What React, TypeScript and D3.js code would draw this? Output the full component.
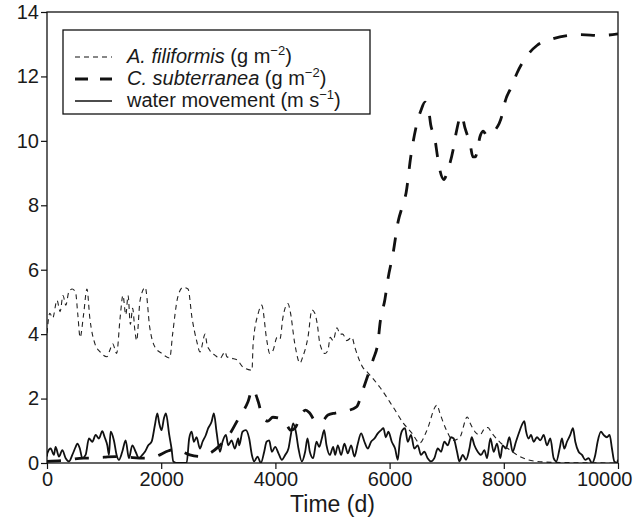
import { useEffect, useRef } from "react"
import { select, scaleLinear, axisBottom, axisLeft, line, curveMonotoneX } from "d3"

// Data: [day, value]
const filiformis: [number, number][] = [
  [0, 4.03], [50, 4.65], [100, 4.5], [175, 5.05], [230, 4.7], [280, 5.2], [330, 4.9], [380, 5.3], [440, 5.4],
  [500, 5.3], [540, 4.6], [580, 3.9], [640, 4.6], [700, 5.4], [750, 4.5], [840, 3.7], [930, 3.45], [1050, 3.3],
  [1100, 3.5], [1150, 3.7], [1220, 3.4], [1280, 4.5], [1330, 5.2], [1380, 4.6], [1420, 5.2], [1460, 4.3],
  [1500, 4.8], [1540, 4.1], [1570, 3.8], [1630, 5.05], [1720, 5.45], [1800, 4.2], [1890, 3.6], [2010, 3.4],
  [2150, 3.26], [2200, 4.0], [2290, 5.15], [2380, 5.45], [2470, 5.4], [2540, 4.5], [2620, 3.8], [2680, 3.45],
  [2770, 4.0], [2800, 3.7], [2850, 3.5], [2940, 3.35], [3030, 3.25], [3120, 3.45], [3150, 3.3], [3240, 3.25],
  [3330, 3.2], [3430, 2.98], [3590, 2.88], [3610, 3.7], [3700, 4.65], [3760, 4.9], [3850, 3.8], [3900, 3.4],
  [3960, 3.5], [4030, 3.9], [4080, 3.85], [4130, 4.5], [4220, 4.95], [4260, 4.7], [4340, 3.7], [4430, 3.1],
  [4480, 3.3], [4570, 3.9], [4640, 4.75], [4690, 4.65], [4730, 4.35], [4780, 3.7], [4870, 3.4], [4920, 3.5],
  [4960, 3.9], [5010, 3.8], [5080, 4.2], [5130, 4.0], [5180, 4.0], [5250, 3.8], [5340, 3.9], [5390, 3.6],
  [5520, 3.0], [5620, 2.8], [5830, 2.35], [6060, 1.74], [6240, 1.24], [6390, 0.93], [6530, 0.62], [6650, 1.0],
  [6830, 1.8], [6880, 1.55], [7000, 1.0], [7110, 0.7], [7230, 0.8], [7360, 1.43], [7410, 1.24], [7500, 0.96],
  [7580, 0.87], [7670, 1.08], [7720, 1.1], [7790, 0.93], [7930, 0.65], [8110, 0.4], [8280, 0.2], [8580, 0.05],
  [8860, 0.02], [10000, 0],
]

const subterranea: [number, number][] = [
  [0, 0.05], [300, 0.08], [640, 0.15], [720, 0.15], [1000, 0.18], [1200, 0.2], [1400, 0.18], [1700, 0.15],
  [1900, 0.2], [2130, 0.38], [2230, 0.42], [2330, 0.38], [2500, 0.25], [2700, 0.2], [2850, 0.3], [3000, 0.5],
  [3200, 0.9], [3360, 1.4], [3520, 1.9], [3600, 2.3], [3700, 1.9], [3780, 1.4], [3870, 1.3], [3955, 1.42],
  [4050, 1.4], [4150, 1.33], [4270, 1.02], [4350, 1.1], [4445, 1.49], [4530, 1.64], [4600, 1.55], [4700, 1.3],
  [4800, 1.27], [4920, 1.49], [5050, 1.55], [5200, 1.6], [5420, 1.74], [5530, 2.26], [5650, 2.88], [5710, 3.2],
  [5800, 3.8], [5830, 4.3], [5920, 5.1], [5970, 5.7], [6060, 6.5], [6150, 7.5], [6230, 8.0], [6290, 8.4],
  [6370, 9.5], [6460, 10.4], [6550, 10.95], [6620, 11.2], [6680, 11.0], [6720, 10.5], [6790, 10.1], [6840, 9.5],
  [6880, 9.1], [6950, 8.8], [7020, 9.1], [7110, 9.7], [7160, 10.2], [7260, 10.8], [7320, 10.4], [7410, 9.9],
  [7460, 9.5], [7500, 9.5], [7590, 10.17], [7640, 10.3], [7700, 10.17], [7760, 10.2], [7830, 10.3], [7970, 10.8],
  [8020, 11.2], [8140, 11.7], [8230, 12.1], [8390, 12.6], [8580, 12.96], [8830, 13.15], [9120, 13.27],
  [9350, 13.3], [9680, 13.27], [10000, 13.32],
]

const water: [number, number][] = [
  [0, 0.2], [5, 0.3], [64, 0.45], [122, 0.25], [150, 0.5], [210, 0.2], [268, 0.4], [327, 0.15], [385, 0.05],
  [443, 0.25], [502, 0.5], [530, 0.6], [575, 0.45], [618, 0.15], [676, 0.25], [735, 0.76], [794, 0.66],
  [852, 0.87], [910, 0.76], [968, 0.99], [1010, 0.8], [1056, 0.55], [1085, 0.25], [1114, 0.97], [1172, 0.7],
  [1219, 0.25], [1260, 0.1], [1318, 0.35], [1377, 0.7], [1435, 0.15], [1494, 0.55], [1552, 0.35], [1610, 0.15],
  [1669, 0.25], [1715, 0.35], [1774, 0.55], [1832, 0.66], [1890, 1.18], [1932, 1.54], [1966, 1.23], [2006, 1.02],
  [2048, 1.39], [2083, 1.54], [2141, 0.87], [2181, 0.45], [2211, 0.05], [2270, 0], [2445, 0], [2490, 0.76],
  [2532, 0.97], [2573, 0.66], [2619, 0.8], [2678, 0.45], [2724, 0.66], [2782, 0.87], [2823, 1.08], [2882, 1.28],
  [2923, 1.54], [2969, 0.97], [3028, 0.35], [3074, 0.66], [3133, 0.87], [3174, 0.55], [3232, 0.7], [3290, 0.45],
  [3349, 0.76], [3366, 0.55], [3424, 0.97], [3483, 1.02], [3541, 0.76], [3588, 0.25], [3629, 0.05], [3687, 0.2],
  [3745, 0], [3804, 0.35], [3845, 0.66], [3891, 0.7], [3938, 0.35], [3996, 0.5], [4054, 0.3], [4113, 0.1],
  [4171, 0.25], [4229, 0.45], [4270, 0.87], [4311, 1.23], [4358, 0.97], [4404, 0.45], [4463, 0.05], [4521, 0.35],
  [4562, 0.76], [4603, 0.35], [4661, 0.15], [4720, 0.66], [4766, 0.5], [4813, 0.76], [4854, 1.02], [4895, 0.55],
  [4953, 0.25], [5012, 0.5], [5046, 0.25], [5093, 0.55], [5151, 0.25], [5209, 0.6], [5268, 0.3], [5326, 0.55],
  [5384, 0.2], [5443, 0.6], [5501, 0.92], [5559, 0.66], [5618, 0.45], [5676, 0.66], [5734, 0.76], [5793, 0.92],
  [5851, 1.02], [5892, 1.08], [5933, 0.8], [5979, 0.97], [6038, 0.66], [6096, 0.45], [6143, 0.1], [6183, 0.76],
  [6224, 1.02], [6270, 1.08], [6317, 0.66], [6375, 0.87], [6433, 0.45], [6492, 0.55], [6550, 0.25], [6608, 0.35],
  [6666, 0.15], [6725, 0.05], [6784, 0.15], [6843, 0.45], [6901, 0.35], [6959, 0.66], [7018, 0.55], [7076, 0.8],
  [7122, 0.76], [7181, 0.35], [7222, 0.05], [7281, 0.25], [7339, 0.1], [7398, 0.45], [7438, 0.8], [7485, 0.55],
  [7543, 0.35], [7601, 0.25], [7660, 0.4], [7706, 0.15], [7765, 0.76], [7823, 0.35], [7881, 0.6], [7940, 0.15],
  [7980, 0.55], [8038, 0.45], [8097, 0.8], [8155, 0.35], [8213, 0.66], [8272, 0.97], [8330, 1.23], [8360, 1.3],
  [8388, 1.0], [8435, 0.76], [8476, 0.87], [8523, 0.66], [8581, 0.8], [8640, 0.7], [8698, 0.87], [8756, 0.55],
  [8815, 0.76], [8873, 0.15], [8920, 0.05], [8978, 0.45], [9018, 0.76], [9059, 0.45], [9106, 0.66], [9164, 0.87],
  [9211, 1.08], [9252, 0.66], [9310, 0.35], [9369, 0.25], [9427, 0.1], [9485, 0.15], [9544, 0], [9602, 0.25],
  [9643, 0.66], [9701, 0.97], [9748, 0.87], [9806, 0.8], [9853, 0.87], [9894, 0.45], [9935, 0.05], [9981, 0],
  [10000, 0.1],
]

const xTicks = [0, 2000, 4000, 6000, 8000, 10000]
const yTicks = [0, 2, 4, 6, 8, 10, 12, 14]
const xLabel = "Time (d)"

const W = 644
const H = 522
const margin = { top: 12, right: 26, bottom: 59, left: 47 }
const FONT = "'Liberation Sans', Arial, Helvetica, sans-serif"

export default function App() {
  const svgRef = useRef<SVGSVGElement>(null)

  useEffect(() => {
    const svg = select(svgRef.current)
    svg.selectAll("*").remove()

    const x = scaleLinear([0, 10000], [margin.left, W - margin.right])
    const y = scaleLinear([0, 14], [H - margin.bottom, margin.top])

    svg.append("defs").append("clipPath").attr("id", "plot-clip")
      .append("rect")
      .attr("x", margin.left).attr("y", margin.top)
      .attr("width", W - margin.left - margin.right)
      .attr("height", H - margin.top - margin.bottom)

    // axes
    const gx = svg.append("g")
      .attr("transform", `translate(0,${H - margin.bottom})`)
      .call(axisBottom(x).tickValues(xTicks).tickFormat(d => `${d}`).tickSize(6).tickPadding(3))
    const gy = svg.append("g")
      .attr("transform", `translate(${margin.left},0)`)
      .call(axisLeft(y).tickValues(yTicks).tickSize(6).tickPadding(2))
    for (const g of [gx, gy]) {
      g.select(".domain").remove()
      g.selectAll("line").attr("stroke", "#111").attr("stroke-width", 1.2)
      g.selectAll("text").attr("font-family", FONT).attr("font-size", 20).attr("fill", "#1a1a1a")
    }
    // last x label sits flush against the right edge, as in the original
    gx.selectAll<SVGTextElement, number>("text")
      .filter(d => d === xTicks[xTicks.length - 1])
      .attr("text-anchor", "end")
      .attr("x", 14)

    svg.append("text")
      .attr("x", (margin.left + W - margin.right) / 2)
      .attr("y", H - 10)
      .attr("text-anchor", "middle")
      .attr("font-family", FONT)
      .attr("font-size", 23)
      .attr("fill", "#1a1a1a")
      .text(xLabel)

    // series
    const path = line<[number, number]>()
      .x(d => x(d[0]))
      .y(d => y(d[1]))
      .curve(curveMonotoneX)

    const plot = svg.append("g").attr("clip-path", "url(#plot-clip)")

    plot.append("path")
      .attr("d", path(water))
      .attr("fill", "none")
      .attr("stroke", "#111")
      .attr("stroke-width", 1.8)
      .attr("stroke-linejoin", "round")

    plot.append("path")
      .attr("d", path(filiformis))
      .attr("fill", "none")
      .attr("stroke", "#222")
      .attr("stroke-width", 1.1)
      .attr("stroke-dasharray", "5,4")

    plot.append("path")
      .attr("d", path(subterranea))
      .attr("fill", "none")
      .attr("stroke", "#111")
      .attr("stroke-width", 2.8)
      .attr("stroke-dasharray", "14,14")

    // frame
    svg.append("rect")
      .attr("x", margin.left).attr("y", margin.top)
      .attr("width", W - margin.left - margin.right)
      .attr("height", H - margin.top - margin.bottom)
      .attr("fill", "none")
      .attr("stroke", "#111")
      .attr("stroke-width", 1.3)

    // legend
    const legend = svg.append("g")
    legend.append("rect")
      .attr("x", 63).attr("y", 30).attr("width", 307).attr("height", 84)
      .attr("fill", "white").attr("stroke", "#111").attr("stroke-width", 1.3)

    const rows = [
      { italic: "A. filiformis", rest: " (g m", sup: "−2", dash: "5,4", width: 1.1 },
      { italic: "C. subterranea", rest: " (g m", sup: "−2", dash: "13,12", width: 2.8 },
      { italic: "", rest: "water movement (m s", sup: "−1", dash: "none", width: 1.4 },
    ]
    rows.forEach((r, i) => {
      const base = 63 + i * 22
      legend.append("line")
        .attr("x1", 75).attr("x2", 112)
        .attr("y1", base - 6).attr("y2", base - 6)
        .attr("stroke", "#111")
        .attr("stroke-width", r.width)
        .attr("stroke-dasharray", r.dash)
      const t = legend.append("text")
        .attr("x", 127).attr("y", base)
        .attr("font-family", FONT)
        .attr("font-size", 20)
        .attr("fill", "#1a1a1a")
      if (r.italic) t.append("tspan").attr("font-style", "italic").text(r.italic)
      t.append("tspan").text(r.rest)
      t.append("tspan").attr("font-size", 13).attr("dy", -8).text(r.sup)
      t.append("tspan").attr("dy", 8).text(")")
    })
  }, [])

  return (
    <svg
      ref={svgRef}
      width={W}
      height={H}
      style={{ position: "absolute", left: 0, top: 0, background: "white" }}
    />
  )
}
